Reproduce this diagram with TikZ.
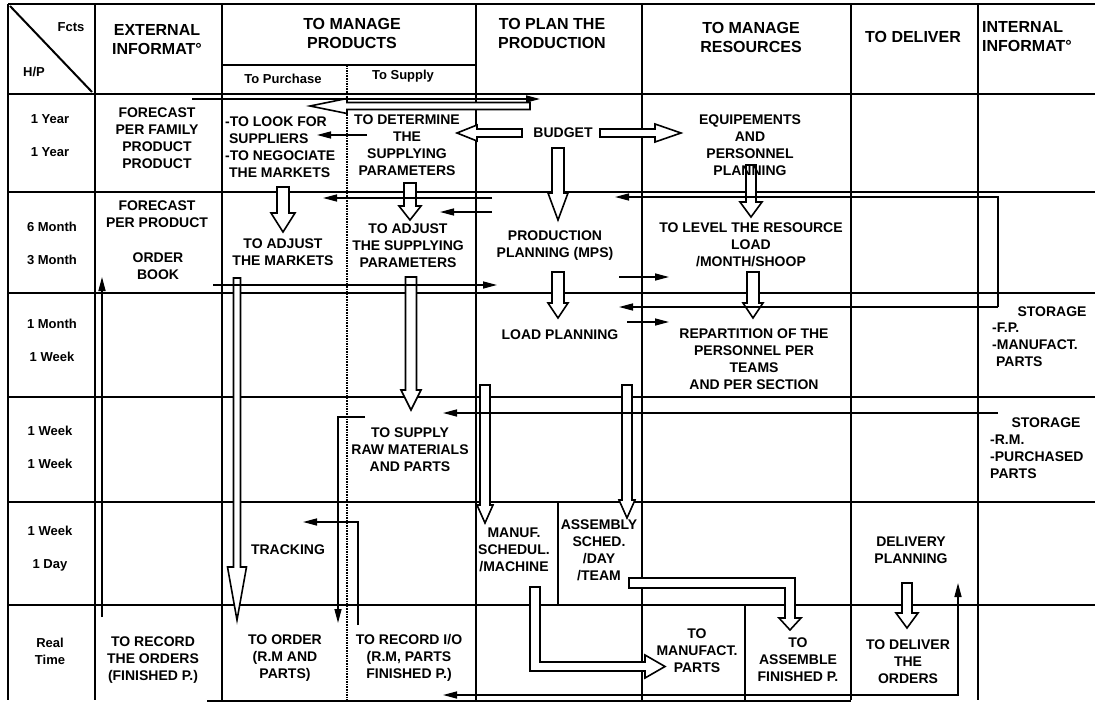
\documentclass[tikz,border=0pt]{standalone}
\usepackage{fontspec}
\setmainfont{Liberation Sans}
\usetikzlibrary{arrows.meta}

% hollow block arrows: down / left / right
% \HollowDown{x}{ytop}{ytip}{shaft half}{head half}{head length}
\newcommand{\HollowDown}[6]{%
  \draw[hollow] ({#1-#4},#2) -- ({#1-#4},{#3-#6}) -- ({#1-#5},{#3-#6}) -- (#1,#3)
    -- ({#1+#5},{#3-#6}) -- ({#1+#4},{#3-#6}) -- ({#1+#4},#2) -- cycle;}
% \HollowLeft{y}{xstart}{xtip}{shaft half}{head half}{head length}
\newcommand{\HollowLeft}[6]{%
  \draw[hollow] (#2,{#1-#4}) -- ({#3+#6},{#1-#4}) -- ({#3+#6},{#1-#5}) -- (#3,#1)
    -- ({#3+#6},{#1+#5}) -- ({#3+#6},{#1+#4}) -- (#2,{#1+#4}) -- cycle;}
\newcommand{\HollowRight}[6]{%
  \draw[hollow] (#2,{#1-#4}) -- ({#3-#6},{#1-#4}) -- ({#3-#6},{#1-#5}) -- (#3,#1)
    -- ({#3-#6},{#1+#5}) -- ({#3-#6},{#1+#4}) -- (#2,{#1+#4}) -- cycle;}

\begin{document}
\begin{tikzpicture}[x=1pt,y=-1pt,
  grid/.style={line width=2.2pt},
  sepline/.style={line width=2pt, dash pattern=on 1.6pt off 1pt},
  hollow/.style={draw, line width=1.6pt, fill=white, line join=miter},
  arr/.style={line width=1.5pt, -{Triangle[length=14pt,width=7pt]}},
  plain/.style={line width=1.5pt},
  hdr/.style={font=\bfseries\fontsize{16}{19}\selectfont, align=center, inner sep=0pt},
  sub/.style={font=\bfseries\fontsize{13}{15}\selectfont, inner sep=0pt},
  tm/.style={font=\bfseries\fontsize{13}{17}\selectfont, align=center, inner sep=0pt},
  txt/.style={font=\bfseries\fontsize{14}{17}\selectfont, align=center, inner sep=0pt},
  txl/.style={font=\bfseries\fontsize{14}{17}\selectfont, align=left, inner sep=0pt}]

\useasboundingbox[fill=white] (0,0) rectangle (1095,706);

% ---------- grid ----------
\draw[grid] (8,4) -- (1095,4);
\draw[grid] (8,94) -- (1095,94);
\draw[grid] (222,65) -- (476,65);
\foreach \y in {192,293,397,502,605}
  \draw[grid] (8,\y) -- (1095,\y);
\foreach \x in {8,95,222,476,642,851,978}
  \draw[grid] (\x,4) -- (\x,700);
\draw[sepline] (347,65) -- (347,700);
\draw[grid] (558,502) -- (558,605);
\draw[grid] (745,605) -- (745,700);
\draw[line width=2pt] (10,6) -- (92,92);

% ---------- hollow arrows ----------
\HollowLeft{106}{530}{310}{3.5}{7.5}{37}
\HollowLeft{133}{522}{457}{4}{8}{20}
\HollowRight{133}{600}{681}{4}{9}{26}
\HollowDown{558}{148}{220}{6}{10}{27}
\HollowDown{751}{165}{217}{5}{11}{15}
\HollowDown{283}{187}{232}{6}{12}{19}
\HollowDown{410}{183}{220}{6}{11}{14}
\HollowDown{411}{277}{410}{5.5}{10}{20}
\HollowDown{237}{278}{620}{3.5}{9.5}{53}
\HollowDown{558}{272}{318}{6}{10}{15}
\HollowDown{753}{272}{318}{6}{10}{15}
\HollowDown{485}{385}{523}{5}{8}{18}
\HollowDown{627}{385}{518}{5}{8}{18}
\HollowDown{907}{583}{628}{5}{11}{15}
% schedule -> manufacture
\draw[hollow] (530,587) -- (530,671) -- (645,671) -- (645,678) -- (665,666.5)
  -- (645,655) -- (645,662) -- (540,662) -- (540,587) -- cycle;
% assembly schedule -> assemble
\draw[hollow] (629,578) -- (795,578) -- (795,618) -- (801,618) -- (790,630)
  -- (779,618) -- (785,618) -- (785,588) -- (629,588) -- cycle;

% ---------- thin connectors ----------
\coordinate (fcOut) at (192,99);    \coordinate (planIn) at (540,99);
\coordinate (detOut) at (367,135);  \coordinate (lookIn) at (317,135);
\coordinate (mpsOutA) at (492,198); \coordinate (adjmIn) at (323,198);
\coordinate (mpsOutB) at (492,212); \coordinate (adjsIn) at (440,212);
\coordinate (stFP) at (998,307);    \coordinate (mpsIn) at (615,197);
\coordinate (loadIn) at (619,307);
\coordinate (obOut) at (213,285);   \coordinate (mpsInB) at (497,285);
\coordinate (mpsOutC) at (619,277); \coordinate (levelIn) at (669,277);
\coordinate (loadOut) at (627,322); \coordinate (repartIn) at (669,322);
\coordinate (stRM) at (998,413);    \coordinate (supIn) at (443,413);
\coordinate (recOut) at (102,617);  \coordinate (obIn) at (102,277);
\coordinate (recioOut) at (358,625);\coordinate (trackIn) at (303,522);
\coordinate (supOut) at (365,417);  \coordinate (orderIn) at (338,623);
\coordinate (delOut) at (855,695);  \coordinate (recioIn) at (443,695);
\coordinate (delplanIn) at (958,583);
\coordinate (lowL) at (207,701);    \coordinate (lowR) at (851,701);

\draw[arr] (fcOut) -- (planIn);
\draw[arr] (detOut) -- (lookIn);
\draw[arr] (mpsOutA) -- (adjmIn);
\draw[arr] (mpsOutB) -- (adjsIn);
\draw[arr] (stFP) |- (mpsIn);
\draw[arr] (stFP) -- (loadIn);
\draw[arr] (obOut) -- (mpsInB);
\draw[arr] (mpsOutC) -- (levelIn);
\draw[arr] (loadOut) -- (repartIn);
\draw[arr] (stRM) -- (supIn);
\draw[arr] (recOut) -- (obIn);
\draw[arr] (recioOut) |- (trackIn);
\draw[arr] (supOut) -| (orderIn);
\draw[arr] (delOut) -- (recioIn);
\draw[arr] (delOut) -| (delplanIn);
\draw[plain] (lowL) -- (lowR);

% ---------- header ----------
\node[sub] (fcts) at (71,27) {Fcts};
\node[sub] (hp) at (34,72) {H/P};
\node[hdr] (ext) at (157,40) {EXTERNAL\\INFORMAT°};
\node[hdr] (prod) at (352,33) {TO MANAGE\\PRODUCTS};
\node[sub] (purch) at (283,79) {To Purchase};
\node[sub] (supply) at (403,76) {To Supply};
\node[hdr] (plan) at (552,33) {TO PLAN THE\\PRODUCTION};
\node[hdr] (res) at (751,37) {TO MANAGE\\RESOURCES};
\node[hdr] (deliv) at (913,37) {TO DELIVER};
\node[hdr, align=left, anchor=west] (intern) at (982,37) {INTERNAL\\INFORMAT°};

% ---------- horizons / periods ----------
\node[tm] (h1) at (50,136) {1 Year\\[16pt]1 Year};
\node[tm] (h2) at (52,243) {6 Month\\[16pt]3 Month};
\node[tm] (h3) at (52,340) {1 Month\\[16pt]1 Week};
\node[tm] (h4) at (50,447) {1 Week\\[16pt]1 Week};
\node[tm] (h5) at (50,549) {1 Week\\[16pt]1 Day};
\node[tm] (h6) at (50,651) {Real\\Time};

% ---------- cells ----------
\node[txt] (fc1) at (157,138) {FORECAST\\PER FAMILY\\PRODUCT\\PRODUCT};
\node[txt] (fc2) at (157,214) {FORECAST\\PER PRODUCT};
\node[txt] (ob) at (158,266) {ORDER\\BOOK};
\node[txt] (rec) at (153,660) {TO RECORD\\THE ORDERS\\(FINISHED P.)};

\node[txl, anchor=west] (look) at (225,147) {-TO LOOK FOR\\\ SUPPLIERS\\-TO NEGOCIATE\\\ THE MARKETS};
\node[txt] (adjm) at (283,252) {TO ADJUST\\THE MARKETS};
\node[txt] (track) at (288,550) {TRACKING};
\node[txt] (order) at (285,658) {TO ORDER\\(R.M AND\\PARTS)};

\node[txt] (det) at (407,145) {TO DETERMINE\\THE\\SUPPLYING\\PARAMETERS};
\node[txt] (adjs) at (408,246) {TO ADJUST\\THE SUPPLYING\\PARAMETERS};
\node[txt] (sup) at (410,450) {TO SUPPLY\\RAW MATERIALS\\AND PARTS};
\node[txt] (recio) at (409,658) {TO RECORD I/O\\(R.M, PARTS\\FINISHED P.)};

\node[txt] (budget) at (563,133) {BUDGET};
\node[txt] (mps) at (555,246) {PRODUCTION\\PLANNING (MPS)};
\node[txt] (load) at (560,335) {LOAD PLANNING};
\node[txt] (manuf) at (514,550) {MANUF.\\SCHEDUL.\\/MACHINE};
\node[txt] (assy) at (599,550) {ASSEMBLY\\SCHED.\\/DAY\\/TEAM};
\node[txt] (tomanuf) at (697,651) {TO\\MANUFACT.\\PARTS};

\node[txt] (equip) at (750,145) {EQUIPEMENTS\\AND\\PERSONNEL\\PLANNING};
\node[txt] (level) at (751,245) {TO LEVEL THE RESOURCE\\LOAD\\/MONTH/SHOOP};
\node[txt] (repart) at (754,359) {REPARTITION OF THE\\PERSONNEL PER\\TEAMS\\AND PER SECTION};
\node[txt] (toass) at (798,660) {TO\\ASSEMBLE\\FINISHED P.};

\node[txt] (delplan) at (911,550) {DELIVERY\\PLANNING};
\node[txt] (todel) at (908,662) {TO DELIVER\\THE\\ORDERS};

\node[txt] (st1) at (1052,312) {STORAGE};
\node[txl, anchor=north west] (st1l) at (992,323) {-F.P.\\-MANUFACT.\\\ PARTS};
\node[txt] (st2) at (1046,423) {STORAGE};
\node[txl, anchor=north west] (st2l) at (990,435) {-R.M.\\-PURCHASED\\PARTS};
\end{tikzpicture}
\end{document}
